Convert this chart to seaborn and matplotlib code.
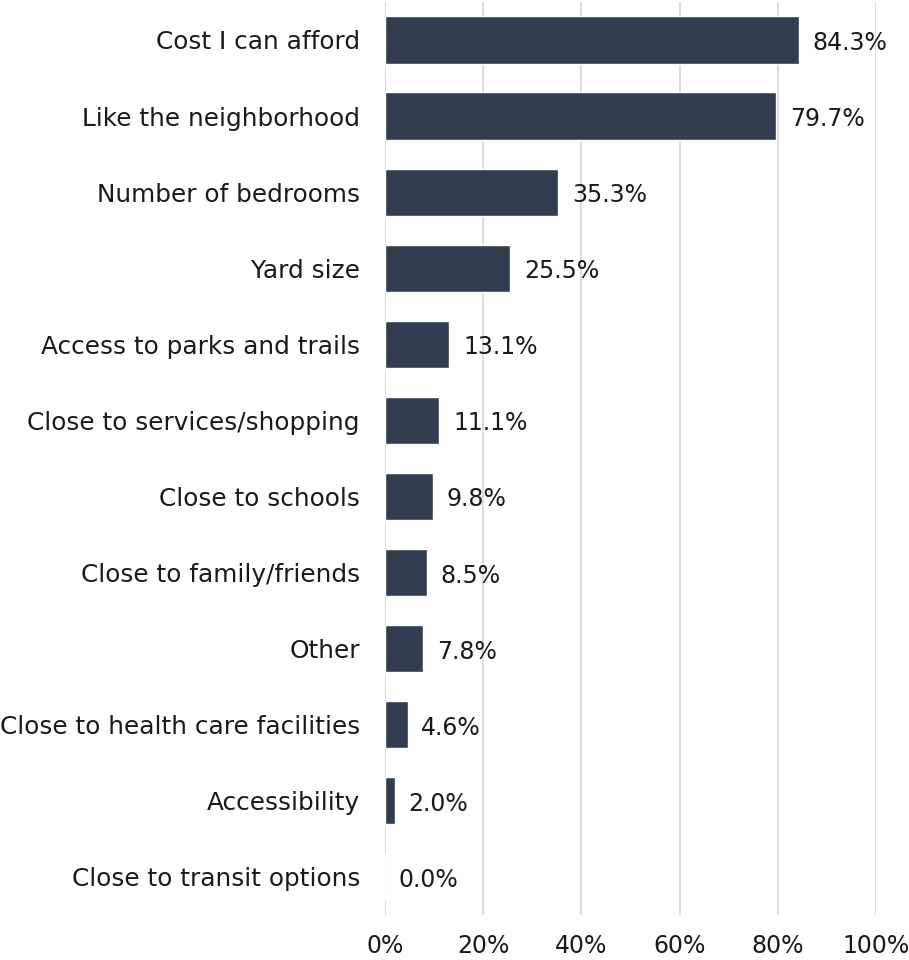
import matplotlib
matplotlib.use("Agg")
import matplotlib.pyplot as plt
import seaborn as sns
import pandas as pd

categories = [
    "Cost I can afford",
    "Like the neighborhood",
    "Number of bedrooms",
    "Yard size",
    "Access to parks and trails",
    "Close to services/shopping",
    "Close to schools",
    "Close to family/friends",
    "Other",
    "Close to health care facilities",
    "Accessibility",
    "Close to transit options",
]
values = [84.3, 79.7, 35.3, 25.5, 13.1, 11.1, 9.8, 8.5, 7.8, 4.6, 2.0, 0.0]
x_ticks = [0, 20, 40, 60, 80, 100]

df = pd.DataFrame({"reason": categories, "pct": values})

sns.set_theme(style="white")
plt.rcParams["font.family"] = ["DejaVu Sans"]

fig = plt.figure(figsize=(9.09, 9.60), dpi=100)
ax = fig.add_axes([0.4235, 0.047, 0.5402, 0.951])

bar_color = "#323e4f"
sns.barplot(data=df, x="pct", y="reason", orient="h", color=bar_color,
            width=0.62, saturation=1, ax=ax, zorder=3)

ax.set_xlim(0, 100)
ax.set_ylim(len(categories) - 0.5, -0.5)
ax.set_xticks(x_ticks)
ax.set_xticklabels([f"{t}%" for t in x_ticks])
ax.xaxis.grid(True, color="#d9d9d9", linewidth=1.3, zorder=0)
ax.set_axisbelow(True)
for s in ax.spines.values():
    s.set_visible(False)
ax.axvline(0, color="#d9d9d9", linewidth=1.5, zorder=1)

ax.set_xlabel("")
ax.set_ylabel("")
ax.tick_params(axis="x", length=0, pad=14, labelsize=17, colors="#1a1a1a")
ax.tick_params(axis="y", length=0, pad=18, labelsize=17.8, colors="#1a1a1a")

for i, v in enumerate(values):
    ax.text(v + 2.8, i + 0.04, f"{v:.1f}%", va="center", ha="left",
            fontsize=17, color="#1a1a1a", zorder=4)

fig.savefig("out.png", dpi=100)
